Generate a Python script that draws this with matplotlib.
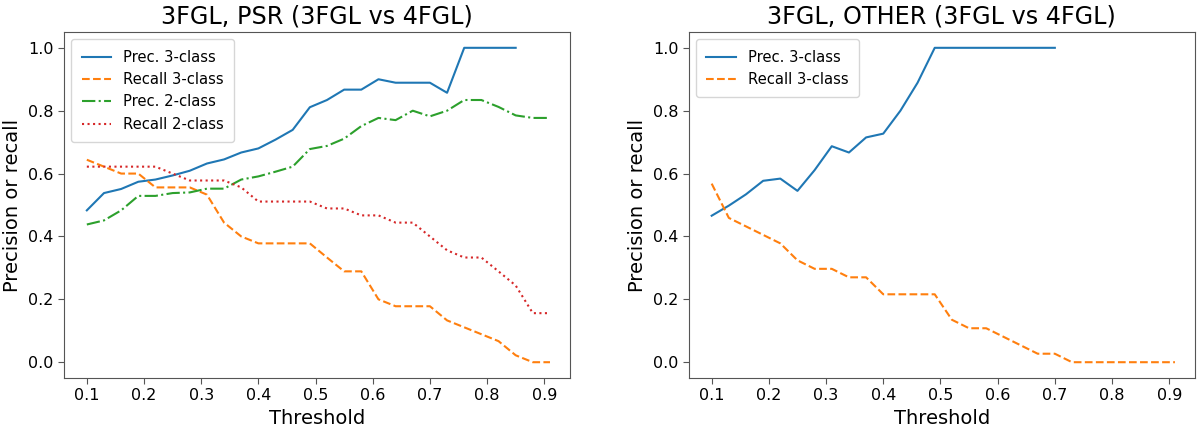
import numpy as np
import matplotlib
matplotlib.use("Agg")
import matplotlib.pyplot as plt

nan = np.nan

thresholds = [round(0.1 + 0.03 * i, 2) for i in range(28)]

# 3FGL, PSR
psr_prec3 = [0.483, 0.538, 0.551, 0.574, 0.581, 0.594, 0.609, 0.632, 0.645, 0.667,
             0.680, 0.708, 0.739, 0.811, 0.834, 0.867, 0.867, 0.900, 0.889, 0.889,
             0.889, 0.857, 1.0, 1.0, 1.0, 1.0, nan, nan]
psr_rec3 = [0.644, 0.622, 0.600, 0.600, 0.556, 0.556, 0.556, 0.533, 0.444, 0.400,
            0.378, 0.378, 0.378, 0.378, 0.333, 0.289, 0.289, 0.200, 0.178, 0.178,
            0.178, 0.133, 0.111, 0.089, 0.067, 0.022, 0.0, 0.0]
psr_prec2 = [0.438, 0.451, 0.483, 0.529, 0.529, 0.538, 0.540, 0.552, 0.552, 0.581,
             0.591, 0.606, 0.622, 0.678, 0.688, 0.711, 0.751, 0.777, 0.770, 0.800,
             0.782, 0.800, 0.834, 0.834, 0.812, 0.785, 0.777, 0.777]
psr_rec2 = [0.622, 0.622, 0.622, 0.622, 0.622, 0.600, 0.578, 0.578, 0.578, 0.556,
            0.511, 0.511, 0.511, 0.511, 0.489, 0.489, 0.467, 0.467, 0.444, 0.444,
            0.400, 0.356, 0.333, 0.333, 0.289, 0.244, 0.156, 0.156]

# 3FGL, OTHER
oth_prec3 = [0.466, 0.498, 0.534, 0.577, 0.584, 0.545, 0.611, 0.687, 0.667, 0.715,
             0.727, 0.800, 0.889, 1.0, 1.0, 1.0, 1.0, 1.0, 1.0, 1.0,
             1.0, nan, nan, nan, nan, nan, nan, nan]
oth_rec3 = [0.568, 0.459, 0.432, 0.405, 0.378, 0.324, 0.297, 0.297, 0.270, 0.270,
            0.216, 0.216, 0.216, 0.216, 0.135, 0.108, 0.108, 0.081, 0.054, 0.027,
            0.027, 0.0, 0.0, 0.0, 0.0, 0.0, 0.0, 0.0]

xticks = [0.1, 0.2, 0.3, 0.4, 0.5, 0.6, 0.7, 0.8, 0.9]
yticks = [0.0, 0.2, 0.4, 0.6, 0.8, 1.0]

fig = plt.figure(figsize=(12, 4.28), dpi=100)
ax1 = fig.add_axes([0.0533, 0.117, 0.4217, 0.808])
ax2 = fig.add_axes([0.574, 0.117, 0.4218, 0.808])

ax1.plot(thresholds, psr_prec3, "-", color="C0", lw=1.5, label="Prec. 3-class")
ax1.plot(thresholds, psr_rec3, "--", color="C1", lw=1.5, label="Recall 3-class")
ax1.plot(thresholds, psr_prec2, "-.", color="C2", lw=1.5, label="Prec. 2-class")
ax1.plot(thresholds, psr_rec2, ":", color="C3", lw=1.5, label="Recall 2-class")
ax1.set_title("3FGL, PSR (3FGL vs 4FGL)", fontsize=17.2)

ax2.plot(thresholds, oth_prec3, "-", color="C0", lw=1.5, label="Prec. 3-class")
ax2.plot(thresholds, oth_rec3, "--", color="C1", lw=1.5, label="Recall 3-class")
ax2.set_title("3FGL, OTHER (3FGL vs 4FGL)", fontsize=17.2)

for ax in (ax1, ax2):
    ax.set_xlim(0.06, 0.945)
    ax.set_ylim(-0.05, 1.05)
    ax.set_xticks(xticks)
    ax.set_yticks(yticks)
    ax.set_xticklabels(["%.1f" % t for t in xticks])
    ax.set_yticklabels(["%.1f" % t for t in yticks])
    ax.tick_params(labelsize=11.5, color="#555555", length=4)
    for s in ax.spines.values():
        s.set_color("#555555")
    ax.set_xlabel("Threshold", fontsize=14)
    ax.set_ylabel("Precision or recall", fontsize=14)
    ax.legend(loc="upper left", fontsize=10.6, borderpad=0.7)

fig.savefig("out.png", dpi=100)
